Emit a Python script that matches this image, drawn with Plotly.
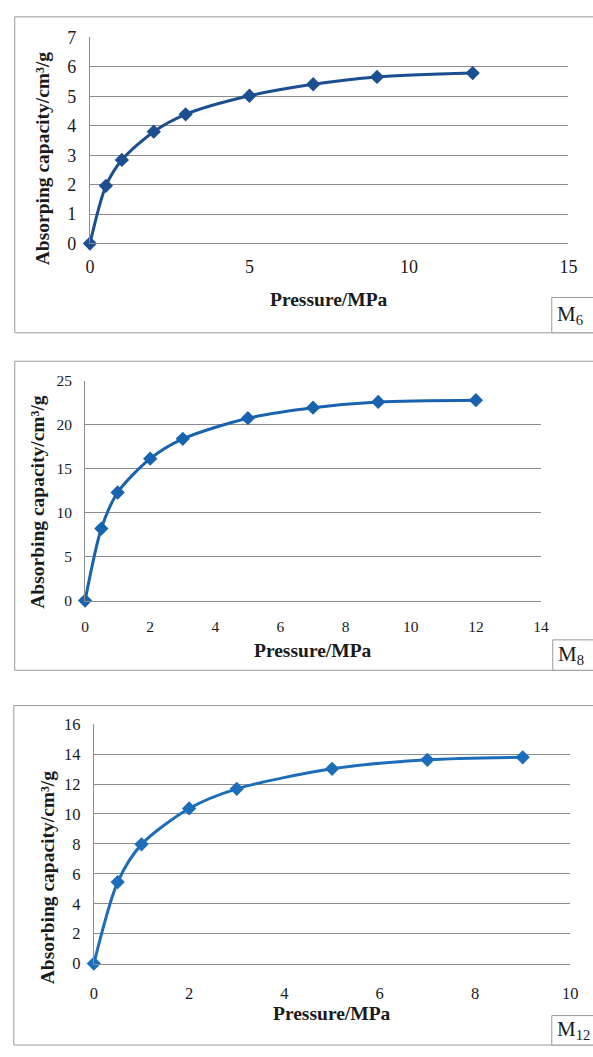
import plotly.graph_objects as go

# Adsorption isotherms of three coal samples
pressure_m6 = [0, 0.5, 1, 2, 3, 5, 7, 9, 12]
capacity_m6 = [0, 1.96, 2.84, 3.80, 4.39, 5.02, 5.41, 5.66, 5.79]

pressure_m8 = [0, 0.5, 1, 2, 3, 5, 7, 9, 12]
capacity_m8 = [0, 8.2, 12.3, 16.15, 18.4, 20.75, 21.95, 22.6, 22.8]

pressure_m12 = [0, 0.5, 1, 2, 3, 5, 7, 9]
capacity_m12 = [0, 5.45, 7.97, 10.37, 11.68, 13.02, 13.62, 13.79]

sample_labels = ["M<sub>6</sub>", "M<sub>8</sub>", "M<sub>12</sub>"]
y_titles = ["Absorping capacity/cm³/g", "Absorbing capacity/cm³/g", "Absorbing capacity/cm³/g"]
x_title = "Pressure/MPa"

W, H = 593, 1057
SERIF = "Liberation Serif"
GRID = "#8c8c8c"
TEXT = "#1a1a1a"


def px(x):
    return x / W


def py(y):
    return 1 - y / H


panels = [
    dict(x=pressure_m6, y=capacity_m6, color="#1B4F8F", xr=[0, 15], xd=5, yr=[0, 7], yd=1,
         plot=(87, 577, 28, 238), box=(10, 7, 329), tag=(560, 293), tickfont=18,
         xstand=7, xt=(332, 295), yt=(38, 151)),
    dict(x=pressure_m8, y=capacity_m8, color="#1763AE", xr=[0, 14], xd=2, yr=[0, 25], yd=5,
         plot=(82, 549, 378, 602), box=(10, 358, 673), tag=(561, 642), tickfont=15.5,
         xstand=12, xt=(315, 653), yt=(33, 501)),
    dict(x=pressure_m12, y=capacity_m12, color="#1C6DBA", xr=[0, 10], xd=2, yr=[0, 16], yd=2,
         plot=(91, 579, 728, 972), box=(9, 709, 1055), tag=(560, 1025), tickfont=16.5,
         xstand=15, xt=(335, 1023), yt=(43, 884)),
]

fig = go.Figure()
shapes = []
annotations = []

for i, p in enumerate(panels, start=1):
    xa = "x" if i == 1 else f"x{i}"
    ya = "y" if i == 1 else f"y{i}"
    fig.add_trace(go.Scatter(
        x=p["x"], y=p["y"], xaxis=xa, yaxis=ya,
        mode="lines+markers",
        line=dict(color=p["color"], width=3, shape="spline", smoothing=0.8),
        marker=dict(symbol="diamond", size=11, color=p["color"]),
        cliponaxis=False, showlegend=False,
    ))
    x0, x1, y0, y1 = p["plot"]
    key = "" if i == 1 else str(i)
    fig.layout[f"xaxis{key}"] = dict(
        domain=[px(x0), px(x1)], range=p["xr"], dtick=p["xd"], tick0=0,
        anchor=ya, showgrid=False, zeroline=False,
        showline=True, linecolor=GRID, linewidth=1,
        ticks="", ticklabelstandoff=p["xstand"],
        tickfont=dict(family=SERIF, size=p["tickfont"], color=TEXT),
        fixedrange=True,
    )
    fig.layout[f"yaxis{key}"] = dict(
        domain=[py(y1), py(y0)], range=p["yr"], dtick=p["yd"], tick0=0,
        anchor=xa, showgrid=True, gridcolor=GRID, gridwidth=1, zeroline=False,
        showline=True, linecolor=GRID, linewidth=1,
        ticks="", ticklabelstandoff=9,
        tickfont=dict(family=SERIF, size=p["tickfont"], color=TEXT),
        fixedrange=True,
    )

    # outer frame of the panel (right edge runs past the page)
    bx, bt, bb = p["box"]
    shapes.append(dict(type="rect", xref="paper", yref="paper",
                       x0=px(bx), x1=px(W + 20), y0=py(bb), y1=py(bt),
                       line=dict(color="#9a9a9a", width=1), fillcolor="rgba(0,0,0,0)"))
    # sample tag box
    tx, ty = p["tag"]
    shapes.append(dict(type="rect", xref="paper", yref="paper",
                       x0=px(tx), x1=px(W + 20), y0=py(bb), y1=py(ty),
                       line=dict(color="#9a9a9a", width=1), fillcolor="white"))
    annotations.append(dict(xref="paper", yref="paper", x=px(tx + 3), y=py((ty + bb) / 2),
                            xanchor="left", yanchor="middle", showarrow=False,
                            text=sample_labels[i - 1],
                            font=dict(family=SERIF, size=21, color=TEXT)))
    # axis titles
    ax, ay = p["xt"]
    annotations.append(dict(xref="paper", yref="paper", x=px(ax), y=py(ay),
                            xanchor="center", yanchor="middle", showarrow=False,
                            text=f"<b>{x_title}</b>",
                            font=dict(family=SERIF, size=19.5, color=TEXT)))
    vx, vy = p["yt"]
    annotations.append(dict(xref="paper", yref="paper", x=px(vx), y=py(vy),
                            xanchor="center", yanchor="middle", showarrow=False,
                            textangle=-90,
                            text=f"<b>{y_titles[i - 1]}</b>",
                            font=dict(family=SERIF, size=19.5, color=TEXT)))

fig.update_layout(
    width=W, height=H,
    margin=dict(l=0, r=0, t=0, b=0),
    paper_bgcolor="white", plot_bgcolor="white",
    font=dict(family=SERIF, color=TEXT),
    shapes=shapes, annotations=annotations,
)

fig.write_html("out.html", config={"displayModeBar": False})
